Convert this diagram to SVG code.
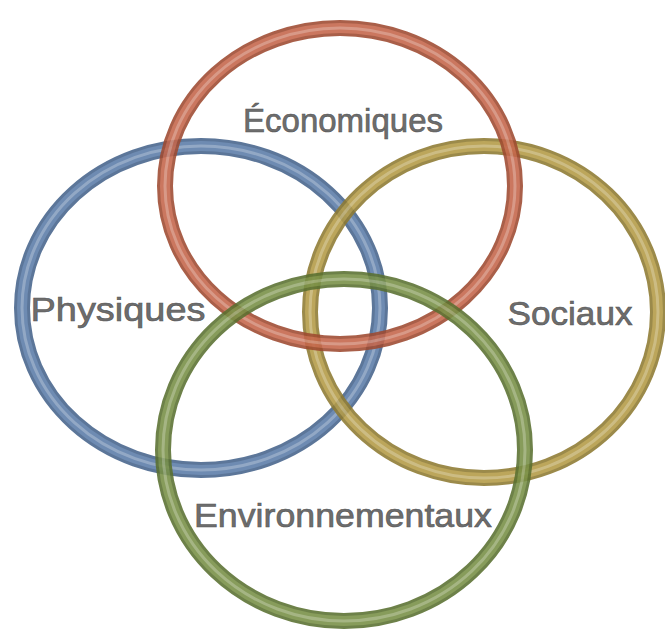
<svg xmlns="http://www.w3.org/2000/svg" width="665" height="630" viewBox="0 0 665 630">
  <style>
    .ring { fill: none; }
    .edge { stroke-width: 16; }
    .body { stroke-width: 10; }
    .shine { stroke-width: 3; stroke: #ffffff; opacity: 0.25; }
    .label { font-family: "Liberation Sans", Arial, sans-serif; font-size: 34px; fill: #6d6d6d; stroke: #555555; stroke-width: 0.6; text-anchor: middle; }
  </style>
  <rect width="665" height="630" fill="#ffffff"/>

  <!-- Physiques -->
  <g id="physiques" opacity="0.88">
    <ellipse class="ring edge" cx="201" cy="308" rx="179" ry="162" stroke="#46648c"/>
    <ellipse class="ring body" cx="201" cy="308" rx="179" ry="162" stroke="#5b7ca8"/>
    <ellipse class="ring shine" cx="201" cy="308" rx="179" ry="162"/>
  </g>

  <!-- Sociaux -->
  <g id="sociaux" opacity="0.88">
    <ellipse class="ring edge" cx="484" cy="312" rx="174" ry="166" stroke="#8e7a32"/>
    <ellipse class="ring body" cx="484" cy="312" rx="174" ry="166" stroke="#b39a45"/>
    <ellipse class="ring shine" cx="484" cy="312" rx="174" ry="166"/>
  </g>

  <!-- Économiques -->
  <g id="economiques" opacity="0.88">
    <ellipse class="ring edge" cx="340" cy="186" rx="175" ry="158" stroke="#9e4a30"/>
    <ellipse class="ring body" cx="340" cy="186" rx="175" ry="158" stroke="#c4654a"/>
    <ellipse class="ring shine" cx="340" cy="186" rx="175" ry="158"/>
  </g>

  <!-- Environnementaux -->
  <g id="environnementaux" opacity="0.88">
    <ellipse class="ring edge" cx="344" cy="450" rx="181" ry="171" stroke="#5a7030"/>
    <ellipse class="ring body" cx="344" cy="450" rx="181" ry="171" stroke="#778f45"/>
    <ellipse class="ring shine" cx="344" cy="450" rx="181" ry="171"/>
  </g>

  <!-- labels -->
  <g id="labels">
    <text class="label" x="343" y="132" textLength="200" lengthAdjust="spacingAndGlyphs">Économiques</text>
    <text class="label" x="118" y="321" textLength="175" lengthAdjust="spacingAndGlyphs">Physiques</text>
    <text class="label" x="570" y="325" textLength="125" lengthAdjust="spacingAndGlyphs">Sociaux</text>
    <text class="label" x="343" y="527" textLength="298" lengthAdjust="spacingAndGlyphs">Environnementaux</text>
  </g>
</svg>
